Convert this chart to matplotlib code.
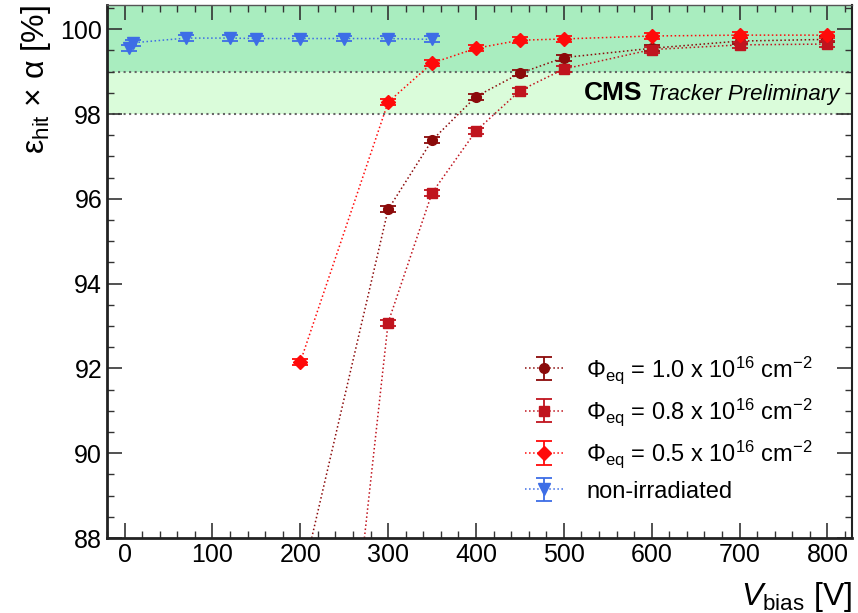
import matplotlib.pyplot as plt

plt.rcParams["font.family"] = ["Liberation Sans", "DejaVu Sans"]
plt.rcParams["mathtext.fontset"] = "custom"
plt.rcParams["mathtext.rm"] = "Liberation Sans"
plt.rcParams["mathtext.it"] = "Liberation Sans:italic"
plt.rcParams["mathtext.bf"] = "Liberation Sans:bold"

# values (efficiency in %, bias in V)
vbias_10 = [300, 350, 400, 450, 500, 600, 700, 800]
eff_10 = [95.75, 97.38, 98.41, 98.96, 99.33, 99.55, 99.72, 99.76]
vbias_08 = [300, 350, 400, 450, 500, 600, 700, 800]
eff_08 = [93.08, 96.14, 97.60, 98.55, 99.06, 99.52, 99.63, 99.65]
vbias_05 = [200, 300, 350, 400, 450, 500, 600, 700, 800]
eff_05 = [92.15, 98.28, 99.20, 99.55, 99.74, 99.77, 99.84, 99.86, 99.86]
vbias_0 = [5, 10, 70, 120, 150, 200, 250, 300, 350]
eff_0 = [99.55, 99.68, 99.79, 99.79, 99.78, 99.78, 99.78, 99.78, 99.76]
err = 0.07

# where the dotted curves leave the frame at the bottom
tail_v_10, tail_eff_10 = [213, 300], [88.0, 95.75]
tail_v_08, tail_eff_08 = [273, 300], [88.0, 93.08]

labels = [
    r"$\Phi_{\mathrm{eq}}$ = 1.0 x 10$^{16}$ cm$^{-2}$",
    r"$\Phi_{\mathrm{eq}}$ = 0.8 x 10$^{16}$ cm$^{-2}$",
    r"$\Phi_{\mathrm{eq}}$ = 0.5 x 10$^{16}$ cm$^{-2}$",
    "non-irradiated",
]

C10, C08, C05, C0 = "#8b0a0a", "#c0141e", "#ff0a0a", "#3d6de6"

fig = plt.figure(figsize=(8.58, 6.13), dpi=100)
ax = fig.add_axes([0.1247, 0.1223, 0.8683, 0.8695])

ax.axhspan(99, 101, color="#a9edbf", zorder=0, lw=0)
ax.axhspan(98, 99, color="#dafcda", zorder=0, lw=0)
for yv in (98, 99):
    ax.axhline(yv, color="#666666", ls=":", lw=1.5, zorder=1)


def draw(v, eff, color, marker, ms, label):
    return ax.errorbar(v, eff, yerr=err, fmt=":", marker=marker, color=color,
                       ms=ms, lw=1.1, ecolor=color, elinewidth=1.3,
                       capsize=6, capthick=1.3, label=label, zorder=3)


ax.plot(tail_v_10, tail_eff_10, ls=":", color=C10, lw=1.1, zorder=2)
ax.plot(tail_v_08, tail_eff_08, ls=":", color=C08, lw=1.1, zorder=2)

h10 = draw(vbias_10, eff_10, C10, "o", 7, labels[0])
h08 = draw(vbias_08, eff_08, C08, "s", 7, labels[1])
h05 = draw(vbias_05, eff_05, C05, "D", 7.5, labels[2])
h0 = draw(vbias_0, eff_0, C0, "v", 8, labels[3])

ax.set_xlim(-19.5, 828)
ax.set_ylim(88, 100.57)
ax.set_xticks(range(0, 801, 100))
ax.set_xticks(range(-20, 821, 20), minor=True)
ax.set_yticks(range(88, 101, 2))
ax.set_yticks([88 + 0.5 * i for i in range(26)], minor=True)
ax.tick_params(which="both", direction="in", top=True, right=True,
               labelsize=18, color="#333333")
ax.tick_params(which="major", length=11, width=1.2)
ax.tick_params(which="minor", length=5, width=1.0)

for side in ("left", "bottom"):
    ax.spines[side].set_linewidth(2)
    ax.spines[side].set_color("#222222")
ax.spines["right"].set_linewidth(1.5)
ax.spines["right"].set_color("#222222")
ax.spines["top"].set_linewidth(1.0)
ax.spines["top"].set_color("#555555")

ax.set_ylabel("ε$_{\\mathrm{hit}}$ × α [%]", fontsize=23, loc="top")
ax.yaxis.set_label_coords(-0.072, 1.0)
ax.set_xlabel(r"$V_{\mathrm{bias}}$ [V]", fontsize=23, loc="right")
ax.xaxis.set_label_coords(1.0, -0.078)

ax.text(523, 98.33, "CMS", fontsize=19, fontweight="bold", va="baseline")
ax.text(814, 98.33, "Tracker Preliminary", fontsize=16, style="italic",
        ha="right", va="baseline")

ax.legend(handles=[h10, h08, h05, h0], loc="upper left",
          bbox_to_anchor=(525 / 858, 1 - 354 / 613),
          bbox_transform=fig.transFigure, frameon=False, fontsize=17,
          borderpad=0, borderaxespad=0, handlelength=1.6,
          handletextpad=1.0, labelspacing=0.45)

fig.text(93 / 858, 1 - 612 / 613, "CMS-CR", color="#6a1b6a", fontsize=20,
         va="top")

fig.savefig("out.png", dpi=100)
